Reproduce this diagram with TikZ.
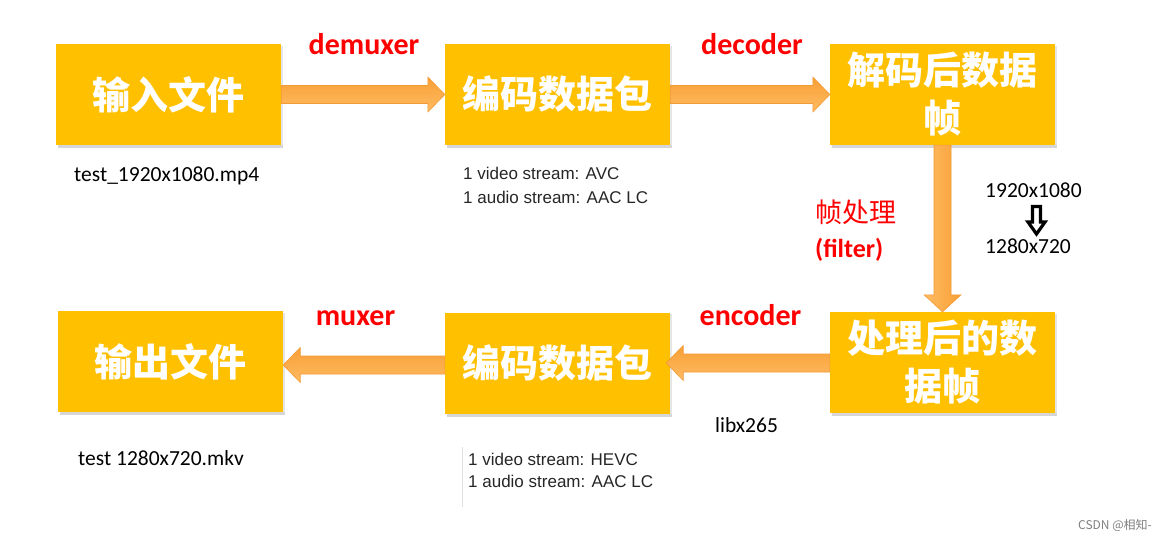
\documentclass[tikz,border=0pt]{standalone}
\usepackage{fontspec}
\usetikzlibrary{calc}
\newfontfamily\cjk{Noto Sans CJK SC}
\newfontfamily\calf{Carlito}
\newfontfamily\arialf{Liberation Sans}
\definecolor{boxgold}{HTML}{FFC000}
\definecolor{arrdark}{HTML}{F8A036}
\definecolor{arrlight}{HTML}{FFBB62}
\definecolor{arredge}{HTML}{F29A35}
\newcommand{\blockarrowH}[2]{%
  \path[arrowshape, top color=arrdark, bottom color=arrlight] let \p1=(#1), \p2=(#2), \n1={sign(\x2-\x1)} in
   (\x1,\y2+9pt) -- (\x2-\n1*17pt,\y2+9pt) -- (\x2-\n1*17pt,\y2+17.5pt) -- (\x2,\y2)
   -- (\x2-\n1*17pt,\y2-17.5pt) -- (\x2-\n1*17pt,\y2-9pt) -- (\x1,\y2-9pt) -- cycle;}
\newcommand{\blockarrowV}[2]{%
  \path[arrowshape, left color=arrlight, right color=arrdark] let \p1=(#1), \p2=(#2), \n1={sign(\y2-\y1)} in
   (\x2-8.5pt,\y1) -- (\x2-8.5pt,\y2-\n1*17pt) -- (\x2-18.5pt,\y2-\n1*17pt) -- (\x2,\y2)
   -- (\x2+18.5pt,\y2-\n1*17pt) -- (\x2+8.5pt,\y2-\n1*17pt) -- (\x2+8.5pt,\y1) -- cycle;}
\newcommand{\boxshadow}[1]{%
  \fill[black, opacity=0.16] ($(#1.south west)+(2,0)$) rectangle ($(#1.south east)+(1.5,3)$);
  \fill[black, opacity=0.10] ($(#1.north east)+(0,2)$) rectangle ($(#1.south east)+(1.5,0)$);}
\tikzset{
  stagebox/.style={rectangle, fill=boxgold, draw=none, minimum width=225pt, minimum height=101pt,
    inner sep=0pt, align=center, text=white, font=\cjk\bfseries\fontsize{38}{48}\selectfont},
  arrowshape/.style={draw=arredge, line width=0.6pt},
  redlabel/.style={text=red, font=\calf\bfseries\fontsize{30}{36}\selectfont, inner sep=0pt},
  blacklabel/.style={text=black, font=\calf\fontsize{21.5}{26}\selectfont, inner sep=0pt},
  streamlabel/.style={text=black!85, font=\arialf\fontsize{17}{22}\selectfont, inner sep=0pt, anchor=base west},
}
\begin{document}
\begin{tikzpicture}[x=1pt,y=-1pt]
\useasboundingbox (0,0) rectangle (1166,540);
\fill[white] (0,0) rectangle (1166,540);

% boxes
\node[stagebox] (in)   at (168.5,94.5) {输入文件};
\node[stagebox] (pkt1) at (557.5,94.5) {编码数据包};
\node[stagebox] (frm1) at (942.5,94.5) {解码后数据\\帧};
\node[stagebox] (frm2) at (942.5,362.5) {处理后的数\\据帧};
\node[stagebox] (pkt2) at (557.5,363) {编码数据包};
\node[stagebox] (out)  at (170.5,361.5) {输出文件};
\foreach \b in {in,pkt1,frm1,frm2,pkt2,out} {\boxshadow{\b}}

% connectors
\blockarrowH{in.east}{pkt1.west}
\blockarrowH{pkt1.east}{frm1.west}
\blockarrowV{frm1.south}{frm2.north}
\coordinate (encTip) at ($(pkt2.east)+(-4,0)$);
\blockarrowH{frm2.west}{encTip}
\coordinate (muxTip) at ($(out.east)+(0,3.5)$);
\blockarrowH{pkt2.west}{muxTip}

% red labels
\node[redlabel, anchor=base] (ldemux) at (364,55) {demuxer};
\node[redlabel, anchor=base] (ldec) at (752,55) {decoder};
\node[redlabel, anchor=base] (lmux) at (355.5,325) {muxer};
\node[redlabel, anchor=base] (lenc) at (750.5,325) {encoder};
\node[text=red, font=\cjk\fontsize{27}{30}\selectfont, inner sep=0pt, anchor=west] (lfp) at (815,212) {帧处理};
\node[redlabel, font=\calf\bfseries\fontsize{26}{30}\selectfont, anchor=base west] (lfilter) at (815,257) {(filter)};

% black labels
\node[blacklabel, anchor=base west] (fin) at (74,182) {test\_1920x1080.mp4};
\node[blacklabel, anchor=base west] (fout) at (78,465) {test 1280x720.mkv};
\node[blacklabel, anchor=base west] (r1) at (985,197) {1920x1080};
\node[blacklabel, anchor=base west] (r2) at (985,253) {1280x720};
\node[blacklabel, anchor=base west] (lib) at (715,432) {libx265};

% small resize arrow
\path[draw=black, line width=3.2pt, fill=white, line join=miter]
  (1032.5,206.5) -- (1040.5,206.5) -- (1040.5,222) -- (1045,222) -- (1036.5,234)
  -- (1028,222) -- (1032.5,222) -- cycle;

% stream info
\node[streamlabel] (s1) at (463,179) {1 video stream: AVC};
\node[streamlabel] (s2) at (463,203) {1 audio stream: AAC LC};
\node[streamlabel] (s3) at (468,465) {1 video stream: HEVC};
\node[streamlabel] (s4) at (468,487) {1 audio stream: AAC LC};
\draw[black!12, line width=0.8pt] (462,447) -- (462,507);

% watermark
\node[text=black!50, font=\cjk\fontsize{12}{14}\selectfont, inner sep=0pt, anchor=base east] (wm) at (1152,529) {CSDN @相知-};
\end{tikzpicture}
\end{document}
